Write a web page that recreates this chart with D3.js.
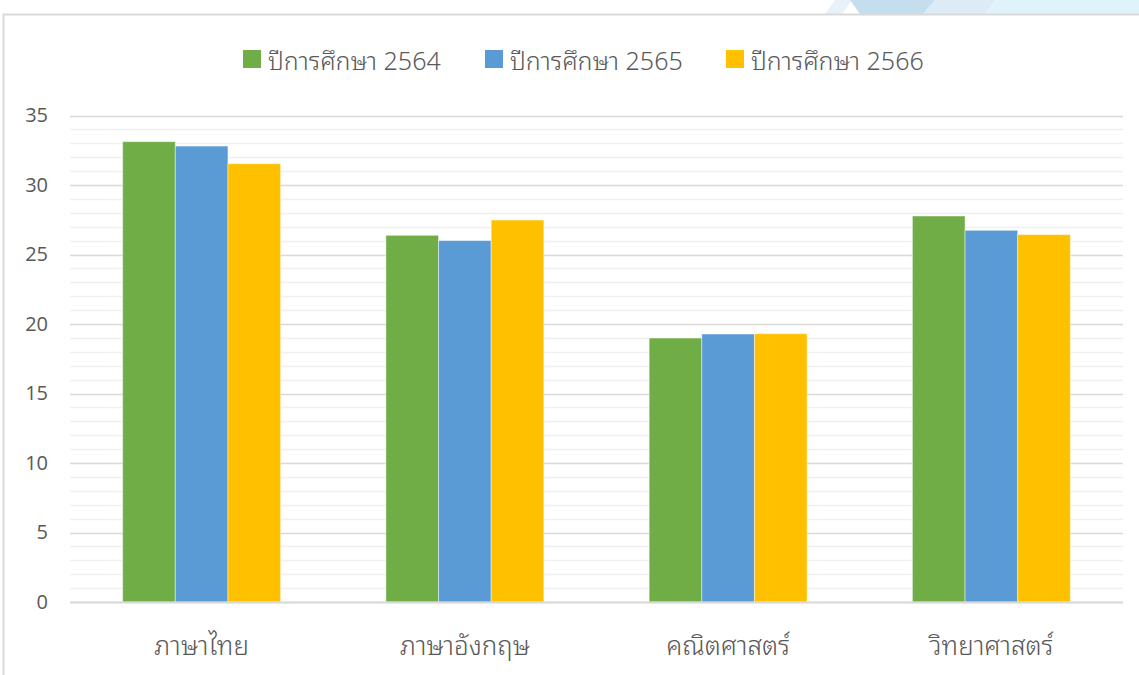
<!DOCTYPE html>
<html>
<head>
<meta charset="utf-8">
<script src="https://cdn.jsdelivr.net/npm/d3@7"></script>
<style>
  html, body { margin: 0; padding: 0; background: #ffffff; }
  svg { display: block; }
</style>
</head>
<body>
<svg id="chart" width="1139" height="675"></svg>
<script>
const categories = ["ภาษาไทย", "ภาษาอังกฤษ", "คณิตศาสตร์", "วิทยาศาสตร์"];
const seriesNames = ["ปีการศึกษา 2564", "ปีการศึกษา 2565", "ปีการศึกษา 2566"];
const values2564 = [33.12, 26.38, 18.99, 27.77];
const values2565 = [32.80, 26.00, 19.28, 26.74];
const values2566 = [31.53, 27.48, 19.30, 26.43];
const seriesColors = ["#70AD47", "#5B9BD5", "#FFC000"];
const yTicks = [0, 5, 10, 15, 20, 25, 30, 35];
const yMinorTicks = d3.range(0, 36, 1);

const seriesValues = [values2564, values2565, values2566];

const svg = d3.select("#chart");
const W = 1139, H = 675;
const fontNum = "'Open Sans', 'Noto Sans', sans-serif";
const fontThai = "'Noto Sans Thai Looped', 'Noto Sans Thai', 'Noto Sans', 'DejaVu Sans', sans-serif";

// decorative top strip
const deco = svg.append("g");
deco.append("polygon").attr("points", "835,0 852,0 842,14 825,14").attr("fill", "#e8f1f8");
deco.append("polygon").attr("points", "850,0 935,0 923,14 860,14").attr("fill", "#c4deee");
deco.append("polygon").attr("points", "935,0 995,0 985,14 923,14").attr("fill", "#dcebf5");
deco.append("polygon").attr("points", "995,0 1139,0 1139,14 985,14").attr("fill", "#e0f3fb");

// chart frame
svg.append("rect").attr("x", 3.5).attr("y", 14.5).attr("width", W).attr("height", H)
  .attr("fill", "#ffffff").attr("stroke", "#d9d9d9").attr("stroke-width", 2);

const plot = { left: 70, right: 1123, top: 115.5, bottom: 602 };

const x = d3.scaleBand().domain(categories).range([plot.left, plot.right])
  .paddingInner(0.4).paddingOuter(0.2);
const xs = d3.scaleBand().domain(seriesNames).range([0, x.bandwidth()]);
const y = d3.scaleLinear().domain([0, 35]).range([plot.bottom, plot.top]);

// minor gridlines
svg.append("g").selectAll("line").data(yMinorTicks.filter(v => v % 5 !== 0)).join("line")
  .attr("x1", plot.left).attr("x2", plot.right)
  .attr("y1", d => Math.round(y(d)) + 0.5).attr("y2", d => Math.round(y(d)) + 0.5)
  .attr("stroke", "#f0f0f0").attr("stroke-width", 1.5);

// major gridlines
svg.append("g").selectAll("line").data(yTicks).join("line")
  .attr("x1", plot.left).attr("x2", plot.right)
  .attr("y1", d => Math.round(y(d)) + 0.5).attr("y2", d => Math.round(y(d)) + 0.5)
  .attr("stroke", "#d9d9d9").attr("stroke-width", 1.5);

// y axis labels
const yAxis = d3.axisLeft(y).tickValues(yTicks).tickSize(0).tickPadding(0);
const yg = svg.append("g").attr("transform", `translate(${plot.left - 22},0)`).call(yAxis);
yg.select(".domain").remove();
yg.selectAll("text").attr("font-family", fontNum).attr("font-size", 20)
  .attr("fill", "#595959");

// bars
const groups = svg.append("g").selectAll("g").data(categories).join("g")
  .attr("transform", d => `translate(${x(d)},0)`);
groups.selectAll("rect")
  .data((c, i) => seriesNames.map((s, j) => ({ s, v: seriesValues[j][i], color: seriesColors[j] })))
  .join("rect")
  .attr("x", d => xs(d.s))
  .attr("width", xs.bandwidth())
  .attr("y", d => y(d.v))
  .attr("height", d => y(0) - y(d.v))
  .attr("fill", d => d.color)
  .attr("stroke", "#ffffff").attr("stroke-opacity", 0.45).attr("stroke-width", 1);

// baseline
svg.append("line").attr("x1", plot.left).attr("x2", plot.right)
  .attr("y1", Math.round(y(0)) + 0.5).attr("y2", Math.round(y(0)) + 0.5)
  .attr("stroke", "#d9d9d9").attr("stroke-width", 2);

// x axis labels
const xAxis = d3.axisBottom(x).tickSize(0).tickPadding(0);
const xg = svg.append("g").attr("transform", `translate(0,${plot.bottom + 35})`).call(xAxis);
xg.select(".domain").remove();
xg.selectAll("text").attr("font-family", fontThai).attr("font-size", 26).attr("font-weight", 300)
  .attr("fill", "#595959").attr("dy", "0.71em");

// legend
const legendX = [243, 485, 726];
const legend = svg.append("g").selectAll("g").data(seriesNames).join("g")
  .attr("transform", (d, i) => `translate(${legendX[i]},50)`);
legend.append("rect").attr("width", 18).attr("height", 18)
  .attr("fill", (d, i) => seriesColors[i]);
legend.append("text").attr("x", 25).attr("y", 20)
  .attr("font-family", fontThai).attr("font-size", 25).attr("font-weight", 300).attr("fill", "#595959")
  .text(d => d);
</script>
</body>
</html>
